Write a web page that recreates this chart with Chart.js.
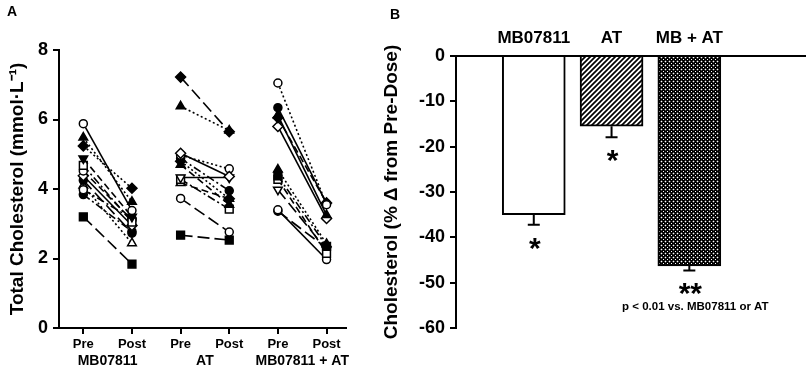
<!DOCTYPE html>
<html lang="en">
<head>
<meta charset="UTF-8">
<title>Total cholesterol, pre and post dosing</title>
<script src="https://cdn.jsdelivr.net/npm/chart.js"></script>
<style>
    body { margin: 0; background: #fff; }
    #wrap { position: relative; width: 806px; height: 370px; overflow: hidden; }
    canvas { position: absolute; top: 0; }
    #chartA { left: 0; }
    #chartB { left: 372px; }
    .panel { position: absolute; font: bold 14px Arial, "Liberation Sans", sans-serif; color: #000; }
</style>
</head>
<body>
<div id="wrap">
    <canvas id="chartA" width="372" height="370"></canvas>
    <canvas id="chartB" width="434" height="370"></canvas>
    <div class="panel" style="left:7px; top:3px">A</div>
    <div class="panel" style="left:390px; top:6px">B</div>
</div>

<script>
    // Panel A: individual total cholesterol (mmol/L), pre and post
    const groupLabels = ['MB07811', 'AT', 'MB07811 + AT'];
    const timeLabels = ['Pre', 'Post'];

    const mbPre  = [5.88, 5.48, 5.24, 4.88, 4.68, 4.52, 4.38, 4.25, 3.98, 4.10, 3.84, 3.20];
    const mbPost = [3.38, 3.63, 4.02, 3.20, 3.05, 3.11, 2.95, 2.73, 3.15, 2.44, 2.78, 1.84];

    const atPre  = [7.22, 6.38, 5.03, 4.97, 4.88, 4.80, 4.70, 4.33, 4.28, 4.17, 3.73, 2.67];
    const atPost = [5.65, 5.68, 4.36, 4.58, 3.95, 3.72, 3.55, 4.33, 3.42, 3.72, 2.76, 2.53];

    const comboPre  = [7.05, 6.34, 6.12, 6.05, 5.80, 4.56, 4.38, 4.28, 3.98, 3.40, 3.36];
    const comboPost = [3.55, 3.58, 3.25, 3.60, 3.15, 2.42, 2.35, 2.15, 2.25, 1.97, 2.30];

    // marker / line style of each subject (shape, filled, dash)
    const mbStyle = ['circle o solid', 'up f dot', 'diamond f dot', 'down f dash', 'square o dashdot', 'circle o dash',
                     'diamond o solid', 'circle f long', 'circle o dashdot', 'up o dot', 'circle f dashdot', 'square f long'];
    const atStyle = ['diamond f long', 'up f dot', 'diamond o solid', 'circle o dot', 'circle f dashdot', 'diamond f dot',
                     'up f dash', 'down o solid', 'square o dashdot', 'up o dash', 'circle o long', 'square f long'];
    const comboStyle = ['circle o dot', 'circle f solid', 'up f solid', 'diamond f dash', 'diamond o solid', 'up f dot',
                        'square f dashdot', 'square o dash', 'down o long', 'circle o solid', 'circle f long'];

    // Panel B: mean % change from pre-dose, with SEM
    const barLabels = ['MB07811', 'AT', 'MB + AT'];
    const meanChange = [-35.0, -15.5, -46.3];
    const semChange = [2.2, 2.4, 1.0];
    const stars = ['*', '*', '**'];
    const note = 'p < 0.01 vs. MB07811 or AT';

    const FONT = 'Arial, "Liberation Sans", sans-serif';
    Chart.defaults.font.family = FONT;
    Chart.defaults.color = '#000';

    const dashes = { solid: [], dot: [2, 2.5], dash: [7, 4], long: [12, 5], dashdot: [8, 3, 2, 3] };
    const shapes = {
        circle: { pointStyle: 'circle', rot: 0, r: 4 },
        up: { pointStyle: 'triangle', rot: 0, r: 5 },
        down: { pointStyle: 'triangle', rot: 180, r: 5 },
        square: { pointStyle: 'rect', rot: 0, r: 5.5 },
        diamond: { pointStyle: 'rectRot', rot: 0, r: 5 }
    };

    function subjectSets(pre, post, styles, g) {
        return pre.map((v, i) => {
            const [shape, fill, dash] = styles[i].split(' ');
            const s = shapes[shape];
            return {
                data: [{ x: 2 * g + 1, y: v }, { x: 2 * g + 2, y: post[i] }],
                borderColor: '#000',
                borderWidth: 1.6,
                borderDash: dashes[dash],
                pointStyle: s.pointStyle,
                pointRotation: s.rot,
                pointRadius: s.r,
                pointBackgroundColor: fill === 'f' ? '#000' : '#fff',
                pointBorderColor: '#000',
                pointBorderWidth: 1.5
            };
        });
    }

    const datasetsA = [
        ...subjectSets(mbPre, mbPost, mbStyle, 0),
        ...subjectSets(atPre, atPost, atStyle, 1),
        ...subjectSets(comboPre, comboPost, comboStyle, 2)
    ];

    const axisLine = { display: true, color: '#000', width: 2 };
    const tickMarks = { drawOnChartArea: false, drawTicks: true, tickLength: 6, color: '#000', lineWidth: 2 };

    new Chart(document.getElementById('chartA'), {
        type: 'line',
        data: { datasets: datasetsA },
        options: {
            responsive: false,
            animation: false,
            layout: { padding: { left: 0, top: 50, right: 26, bottom: 0 } },
            plugins: { legend: { display: false }, tooltip: { enabled: false } },
            scales: {
                x: {
                    type: 'linear', position: 'bottom', weight: 0,
                    min: 0.5, max: 6.4, offset: false,
                    border: axisLine,
                    grid: tickMarks,
                    afterBuildTicks: s => { s.ticks = [1, 2, 3, 4, 5, 6].map(v => ({ value: v })); },
                    afterFit: s => { s.height = 24; },
                    ticks: {
                        autoSkip: false, maxRotation: 0, padding: 3,
                        font: { size: 13, weight: 'bold' },
                        callback: v => timeLabels[(v - 1) % 2]
                    }
                },
                x2: {
                    type: 'linear', position: 'bottom', weight: 1,
                    min: 0.5, max: 6.4, offset: false,
                    border: { display: false },
                    grid: { display: false, drawTicks: false },
                    afterBuildTicks: s => { s.ticks = groupLabels.map((_, i) => ({ value: 2 * i + 1.5 })); },
                    afterFit: s => { s.height = 18; },
                    ticks: {
                        autoSkip: false, maxRotation: 0, padding: 1,
                        font: { size: 14, weight: 'bold' },
                        callback: v => groupLabels[(v - 1.5) / 2]
                    }
                },
                y: {
                    min: 0, max: 8,
                    border: axisLine,
                    grid: tickMarks,
                    afterFit: s => { s.width = 59; },
                    ticks: { stepSize: 2, padding: 5, font: { size: 18, weight: 'bold' } },
                    title: {
                        display: true,
                        text: 'Total Cholesterol (mmol·L⁻¹)',
                        font: { size: 19, weight: 'bold' },
                        padding: { top: 6, bottom: 0 }
                    }
                }
            }
        }
    });

    // fill patterns for panel B
    function hatchPattern() {
        const c = document.createElement('canvas');
        c.width = 5; c.height = 5;
        const g = c.getContext('2d');
        g.fillStyle = '#fff';
        g.fillRect(0, 0, 5, 5);
        g.strokeStyle = '#000';
        g.lineWidth = 1.7;
        g.beginPath();
        g.moveTo(-1, 6); g.lineTo(6, -1);
        g.moveTo(-1, 1); g.lineTo(1, -1);
        g.moveTo(4, 6); g.lineTo(6, 4);
        g.stroke();
        return g.createPattern(c, 'repeat');
    }

    function dotPattern() {
        const c = document.createElement('canvas');
        c.width = 4; c.height = 4;
        const g = c.getContext('2d');
        g.fillStyle = '#000';
        g.fillRect(0, 0, 4, 4);
        g.fillStyle = '#fff';
        g.fillRect(1, 1, 1, 1);
        g.fillRect(3, 3, 1, 1);
        g.fillStyle = '#4a4a4a';
        g.fillRect(0, 1, 1, 1); g.fillRect(2, 1, 1, 1);
        g.fillRect(1, 0, 1, 1); g.fillRect(1, 2, 1, 1);
        return g.createPattern(c, 'repeat');
    }

    const errorBars = {
        id: 'errorBars',
        afterDatasetsDraw(chart) {
            const { ctx, scales: { x, y } } = chart;
            ctx.save();
            ctx.strokeStyle = '#000';
            ctx.fillStyle = '#000';
            ctx.lineWidth = 2;
            meanChange.forEach((m, i) => {
                const px = x.getPixelForValue(i + 1);
                const top = y.getPixelForValue(m);
                const bot = y.getPixelForValue(m - semChange[i]);
                ctx.beginPath();
                ctx.moveTo(px, top);
                ctx.lineTo(px, bot);
                ctx.moveTo(px - 6, bot);
                ctx.lineTo(px + 6, bot);
                ctx.stroke();
                ctx.font = 'bold 30px ' + FONT;
                ctx.textAlign = 'center';
                ctx.textBaseline = 'alphabetic';
                ctx.fillText(stars[i], px + 1, bot + 33);
                if (i === meanChange.length - 1) {
                    ctx.font = 'bold 11.5px ' + FONT;
                    ctx.textBaseline = 'middle';
                    ctx.fillText(note, px + 6, bot + 36);
                }
            });
            ctx.restore();
        }
    };

    new Chart(document.getElementById('chartB'), {
        type: 'bar',
        data: {
            datasets: [{
                data: meanChange.map((v, i) => ({ x: i + 1, y: v })),
                backgroundColor: ['#fff', hatchPattern(), dotPattern()],
                borderColor: '#000',
                borderWidth: 2,
                barThickness: 63
            }]
        },
        options: {
            responsive: false,
            animation: false,
            layout: { padding: { left: 0, top: 26, right: 0, bottom: 42 } },
            plugins: { legend: { display: false }, tooltip: { enabled: false } },
            scales: {
                x: {
                    type: 'linear', position: 'top',
                    min: 0, max: 4.5, offset: false,
                    border: axisLine,
                    grid: { display: false, drawTicks: false, offset: false },
                    afterBuildTicks: s => { s.ticks = barLabels.map((_, i) => ({ value: i + 1 })); },
                    afterFit: s => { s.height = 30; },
                    ticks: {
                        autoSkip: false, maxRotation: 0, padding: 7,
                        font: { size: 17, weight: 'bold' },
                        callback: v => barLabels[v - 1]
                    }
                },
                y: {
                    min: -60, max: 0,
                    border: axisLine,
                    grid: tickMarks,
                    afterFit: s => { s.width = 84; },
                    ticks: { stepSize: 10, padding: 5, font: { size: 18, weight: 'bold' } },
                    title: {
                        display: true,
                        text: 'Cholesterol (% Δ from Pre-Dose)',
                        font: { size: 19, weight: 'bold' },
                        padding: { top: 8, bottom: 0 }
                    }
                }
            }
        },
        plugins: [errorBars]
    });
</script>
</body>
</html>
